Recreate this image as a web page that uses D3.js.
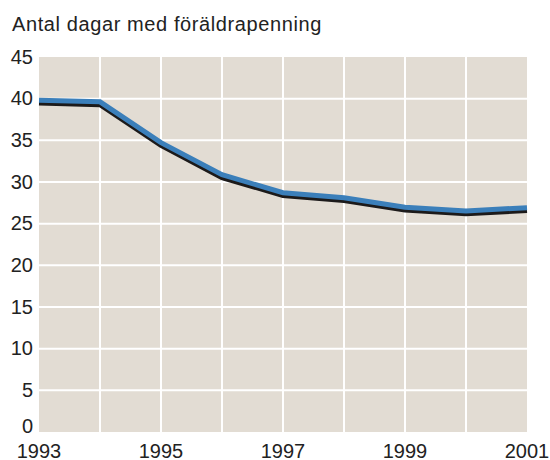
<!DOCTYPE html>
<html>
<head>
<meta charset="utf-8">
<script src="https://cdn.jsdelivr.net/npm/d3@7"></script>
<style>
  body { margin: 0; background: #fff; }
  svg text { font-family: "Liberation Sans", Arial, Helvetica, sans-serif; fill: #222; }
</style>
</head>
<body>
<svg id="svg0" width="550" height="460"></svg>
<script>
var svg0 = d3.select('#svg0');

var title = 'Antal dagar med föräldrapenning';
var years = [1993, 1994, 1995, 1996, 1997, 1998, 1999, 2000, 2001];
var days = [39.7, 39.5, 34.6, 30.75, 28.6, 28.0, 26.85, 26.4, 26.8];
var y_ticks = [0, 5, 10, 15, 20, 25, 30, 35, 40, 45];
var x_labels = [1993, 1995, 1997, 1999, 2001];

var plot_left = 39, plot_right = 527, plot_top = 57, plot_bottom = 432;
var x = d3.scaleLinear().domain([1993, 2001]).range([plot_left, plot_right]);
var y = d3.scaleLinear().domain([0, 45]).range([plot_bottom, plot_top]);

svg0.append('text').attr('x', 12).attr('y', 31).attr('font-size', 20)
	.attr('letter-spacing', 0.6).text(title);

// plot background
svg0.append('rect').attr('x', plot_left).attr('y', plot_top)
	.attr('width', plot_right-plot_left).attr('height', plot_bottom-plot_top)
	.attr('fill', '#e2dcd3');

// grid lines
svg0.selectAll('.hgrid').data(y_ticks.filter(d => d > 0 && d < 45)).enter().append('line')
	.attr('x1', plot_left).attr('x2', plot_right)
	.attr('y1', d => y(d)).attr('y2', d => y(d))
	.attr('stroke', '#fff').attr('stroke-width', 2);
svg0.selectAll('.vgrid').data(years.slice(1, -1)).enter().append('line')
	.attr('x1', d => x(d)).attr('x2', d => x(d))
	.attr('y1', plot_top).attr('y2', plot_bottom)
	.attr('stroke', '#fff').attr('stroke-width', 2);

// y labels (0 sits a bit higher to clear the year labels)
svg0.selectAll('.ylab').data(y_ticks).enter().append('text')
	.attr('x', 33).attr('y', d => y(d) + (d == 0 ? 1 : 6.7))
	.attr('text-anchor', 'end').attr('font-size', 20)
	.text(d => d);

// x labels
svg0.selectAll('.xlab').data(x_labels).enter().append('text')
	.attr('x', d => x(d)).attr('y', 458)
	.attr('text-anchor', 'middle').attr('font-size', 20)
	.text(d => d);

// line with dark shadow underneath
var line = d3.line().x((d, i) => x(years[i])).y(d => y(d));
svg0.append('path').datum(days).attr('d', line)
	.attr('transform', 'translate(0,1.8)')
	.attr('fill', 'none').attr('stroke', '#1c1a1a').attr('stroke-width', 5);
svg0.append('path').datum(days).attr('d', line)
	.attr('transform', 'translate(0,-1)')
	.attr('fill', 'none').attr('stroke', '#3b7fba').attr('stroke-width', 5);
</script>
</body>
</html>
